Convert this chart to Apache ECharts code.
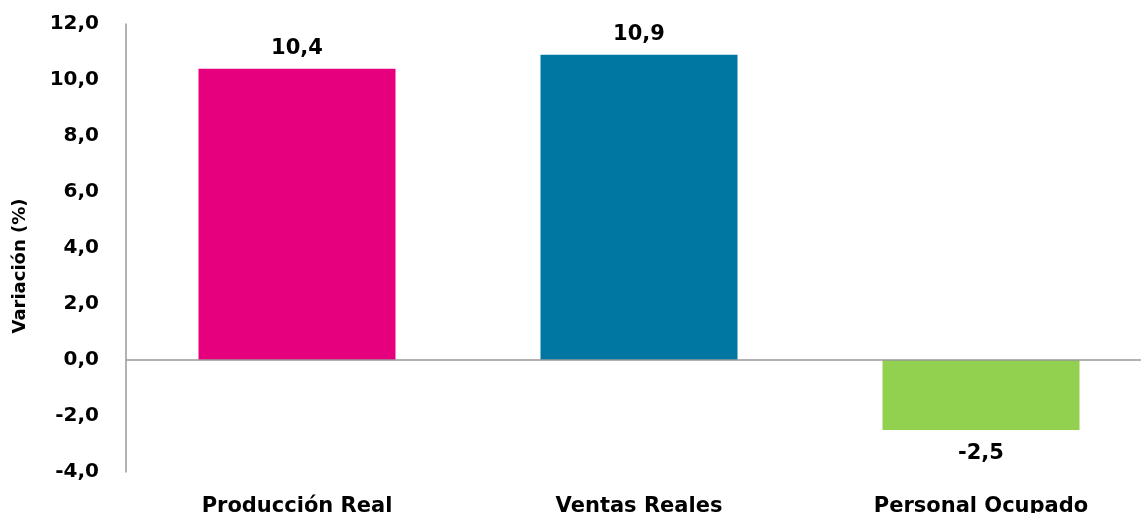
<!DOCTYPE html>
<html><head><meta charset="utf-8">
<script src="https://cdn.jsdelivr.net/npm/echarts@6/dist/echarts.min.js"></script>
<style>html,body{margin:0;padding:0;background:#fff}#c{width:1141px;height:513px}</style>
</head><body><div id="c"></div>
<script>
const categories = ['Producción Real', 'Ventas Reales', 'Personal Ocupado'];
const values = [10.4, 10.9, -2.5];
const colors = ['#E6007E', '#0077A2', '#92D050'];
const yTitle = 'Variación (%)';
const fmt = v => v.toFixed(1).replace('.', ',');

const chart = echarts.init(document.getElementById('c'), null, {renderer: 'canvas'});
chart.setOption({
  animation: false,
  grid: {left: 126, right: -11, top: 24, bottom: 41, outerBoundsMode: 'none', containLabel: false},
  graphic: [{
    type: 'text', x: 20, y: 266, rotation: Math.PI / 2,
    style: {text: yTitle, fontFamily: 'DejaVu Sans', fontWeight: 'bold', fontSize: 18,
      fill: '#000', align: 'center', verticalAlign: 'middle'}
  }],
  xAxis: {
    type: 'category', data: categories,
    axisLine: {show: false, onZero: false},
    axisTick: {show: false},
    axisLabel: {interval: 0, margin: 24, color: '#000',
      fontFamily: 'DejaVu Sans', fontWeight: 'bold', fontSize: 21, verticalAlign: 'top'},
    position: 'bottom'
  },
  yAxis: {
    type: 'value', min: -4, max: 12, interval: 2,
    axisLine: {show: true, lineStyle: {color: '#999', width: 1.5}},
    axisTick: {show: false},
    splitLine: {show: false},
    axisLabel: {formatter: fmt, color: '#000', fontFamily: 'DejaVu Sans', fontWeight: 'bold', fontSize: 20, margin: 27}
  },
  series: [{
    type: 'bar', barWidth: '57.6%',
    data: values.map((v, i) => ({value: v, itemStyle: {color: colors[i]},
      label: {position: v >= 0 ? 'top' : 'bottom', distance: v >= 0 ? 10 : 13}})),
    label: {show: true, formatter: p => fmt(p.value), color: '#000',
      fontFamily: 'DejaVu Sans', fontWeight: 'bold', fontSize: 21},
    markLine: {silent: true, symbol: 'none', label: {show: false},
      lineStyle: {color: '#999', width: 1.5, type: 'solid'},
      data: [{yAxis: 0}]}
  }]
});
</script></body></html>
